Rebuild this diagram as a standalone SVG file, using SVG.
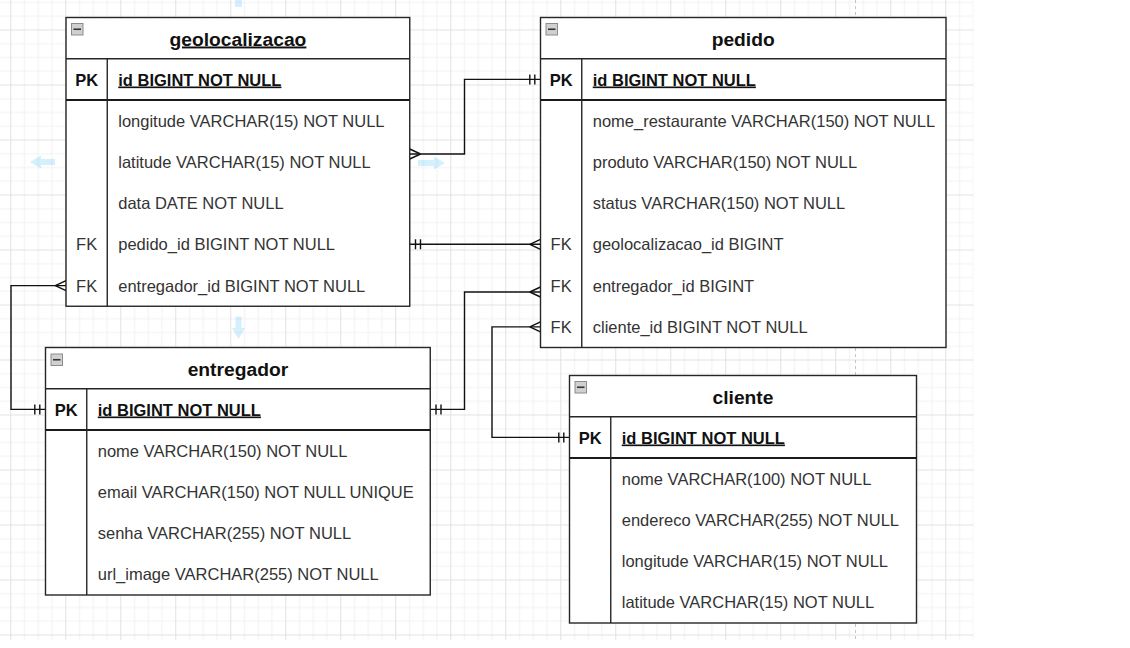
<svg xmlns="http://www.w3.org/2000/svg" width="1130" height="648" viewBox="0 0 1130 648">
<style>
.tb{fill:#fff;stroke:#262626;stroke-width:1.4}
.ln{stroke:#262626;stroke-width:1.4;fill:none}
.pkl{stroke:#1a1a1a;stroke-width:2.2;fill:none}
.ttl{font-family:"Liberation Sans",Arial,sans-serif;font-size:19.25px;font-weight:bold;fill:#111;text-anchor:middle}
.pk{font-family:"Liberation Sans",Arial,sans-serif;font-size:16.5px;font-weight:bold;fill:#111}
.pkc{font-family:"Liberation Sans",Arial,sans-serif;font-size:16.5px;font-weight:bold;fill:#111;text-anchor:middle}
.fk{font-family:"Liberation Sans",Arial,sans-serif;font-size:16.5px;fill:#333;text-anchor:middle}
.f{font-family:"Liberation Sans",Arial,sans-serif;font-size:16.5px;fill:#333}
.u{text-decoration:underline}
.cn{stroke:#111;stroke-width:1.4;fill:none}
.hov{fill:#29b6f2;fill-opacity:0.2}
</style>
<defs>
<pattern id="grid" x="10.25" y="29.5" width="55" height="55" patternUnits="userSpaceOnUse">
<rect x="13.75" y="0" width="1" height="55" fill="#f1f1f1"/>
<rect x="27.5" y="0" width="1" height="55" fill="#f1f1f1"/>
<rect x="41.25" y="0" width="1" height="55" fill="#f1f1f1"/>
<rect x="0" y="13.75" width="55" height="1" fill="#f1f1f1"/>
<rect x="0" y="27.5" width="55" height="1" fill="#f1f1f1"/>
<rect x="0" y="41.25" width="55" height="1" fill="#f1f1f1"/>
<rect x="0" y="0" width="1" height="55" fill="#e2e2e2"/>
<rect x="0" y="0" width="55" height="1" fill="#e2e2e2"/>
</pattern>
<g id="minbtn">
<rect x="0" y="0" width="11.5" height="11.5" fill="#d0d0d0" stroke="#8c8c8c" stroke-width="1"/>
<line x1="2" y1="5.75" x2="9.5" y2="5.75" stroke="#333" stroke-width="1.6"/>
</g>
</defs>
<rect x="0" y="0" width="1130" height="648" fill="#fff"/>
<rect x="0" y="0" width="973.5" height="640" fill="url(#grid)"/>
<line x1="855.5" y1="0" x2="855.5" y2="640" stroke="#c4c4c4" stroke-width="1" stroke-dasharray="3,3"/>

<g id="hover-arrows">
<rect class="hov" x="235" y="0" width="7" height="7"/>
<polygon class="hov" points="30,162 41,155.5 41,159 55,159 55,165 41,165 41,168.5"/>
<polygon class="hov" points="445,163 434,156.5 434,160 418,160 418,166 434,166 434,169.5"/>
<polygon class="hov" points="238.5,339 232,328 235.5,328 235.5,316.5 241.5,316.5 241.5,328 245,328"/>
</g>

<g id="connectors">
<path class="cn" d="M409.75,154 H464.5 V79.4 H540.5"/>
<path class="cn" d="M420.5,154 L409.75,149 M420.5,154 L409.75,159"/>
<path class="cn" d="M529.8,74.4 V84.4 M534.8,74.4 V84.4"/>

<path class="cn" d="M409.75,244.3 H540.5"/>
<path class="cn" d="M415.5,239.3 V249.3 M420.5,239.3 V249.3"/>
<path class="cn" d="M529.8,244.3 L540.5,239.3 M529.8,244.3 L540.5,249.3"/>

<path class="cn" d="M66,285.6 H11 V409.4 H45.5"/>
<path class="cn" d="M55.3,285.6 L66,280.6 M55.3,285.6 L66,290.6"/>
<path class="cn" d="M34.8,404.4 V414.4 M39.8,404.4 V414.4"/>

<path class="cn" d="M430.25,409.4 H464.5 V292 H540.5"/>
<path class="cn" d="M436,404.4 V414.4 M441,404.4 V414.4"/>
<path class="cn" d="M529.8,292 L540.5,287 M529.8,292 L540.5,297"/>

<path class="cn" d="M569.5,437.4 H492 V326.9 H540.5"/>
<path class="cn" d="M558.8,432.4 V442.4 M563.8,432.4 V442.4"/>
<path class="cn" d="M529.8,326.9 L540.5,321.9 M529.8,326.9 L540.5,331.9"/>
</g>

<g id="geolocalizacao">
<rect class="tb" x="66" y="17.5" width="343.75" height="288.75"/>
<line class="ln" x1="66" y1="58.75" x2="409.75" y2="58.75"/>
<line class="pkl" x1="66" y1="100" x2="409.75" y2="100"/>
<line class="ln" x1="107.25" y1="58.75" x2="107.25" y2="306.25"/>
<use href="#minbtn" x="71.5" y="23.5"/>
<text class="ttl u" x="237.9" y="45.5">geolocalizacao</text>
<text class="pkc" x="86.6" y="85.5">PK</text>
<text class="pk u" x="118.25" y="85.5">id BIGINT NOT NULL</text>
<text class="f" x="118.25" y="126.7">longitude VARCHAR(15) NOT NULL</text>
<text class="f" x="118.25" y="167.9">latitude VARCHAR(15) NOT NULL</text>
<text class="f" x="118.25" y="209.1">data DATE NOT NULL</text>
<text class="fk" x="86.6" y="250.4">FK</text>
<text class="f" x="118.25" y="250.4">pedido_id BIGINT NOT NULL</text>
<text class="fk" x="86.6" y="291.6">FK</text>
<text class="f" x="118.25" y="291.6">entregador_id BIGINT NOT NULL</text>
</g>

<g id="pedido">
<rect class="tb" x="540.5" y="17.5" width="405.5" height="330"/>
<line class="ln" x1="540.5" y1="58.75" x2="946" y2="58.75"/>
<line class="pkl" x1="540.5" y1="100" x2="946" y2="100"/>
<line class="ln" x1="581.75" y1="58.75" x2="581.75" y2="347.5"/>
<use href="#minbtn" x="546" y="23.5"/>
<text class="ttl" x="743.2" y="45.5">pedido</text>
<text class="pkc" x="561.1" y="85.5">PK</text>
<text class="pk u" x="592.75" y="85.5">id BIGINT NOT NULL</text>
<text class="f" x="592.75" y="126.7">nome_restaurante VARCHAR(150) NOT NULL</text>
<text class="f" x="592.75" y="167.9">produto VARCHAR(150) NOT NULL</text>
<text class="f" x="592.75" y="209.1">status VARCHAR(150) NOT NULL</text>
<text class="fk" x="561.1" y="250.4">FK</text>
<text class="f" x="592.75" y="250.4">geolocalizacao_id BIGINT</text>
<text class="fk" x="561.1" y="291.6">FK</text>
<text class="f" x="592.75" y="291.6">entregador_id BIGINT</text>
<text class="fk" x="561.1" y="332.9">FK</text>
<text class="f" x="592.75" y="332.9">cliente_id BIGINT NOT NULL</text>
</g>

<g id="entregador">
<rect class="tb" x="45.5" y="347.5" width="384.75" height="247.5"/>
<line class="ln" x1="45.5" y1="388.75" x2="430.25" y2="388.75"/>
<line class="pkl" x1="45.5" y1="430" x2="430.25" y2="430"/>
<line class="ln" x1="86.75" y1="388.75" x2="86.75" y2="595"/>
<use href="#minbtn" x="51" y="354"/>
<text class="ttl" x="237.9" y="375.5">entregador</text>
<text class="pkc" x="66.1" y="415.5">PK</text>
<text class="pk u" x="97.75" y="415.5">id BIGINT NOT NULL</text>
<text class="f" x="97.75" y="456.7">nome VARCHAR(150) NOT NULL</text>
<text class="f" x="97.75" y="497.9">email VARCHAR(150) NOT NULL UNIQUE</text>
<text class="f" x="97.75" y="539.1">senha VARCHAR(255) NOT NULL</text>
<text class="f" x="97.75" y="580.4">url_image VARCHAR(255) NOT NULL</text>
</g>

<g id="cliente">
<rect class="tb" x="569.5" y="375.5" width="347" height="247.5"/>
<line class="ln" x1="569.5" y1="416.75" x2="916.5" y2="416.75"/>
<line class="pkl" x1="569.5" y1="458" x2="916.5" y2="458"/>
<line class="ln" x1="610.75" y1="416.75" x2="610.75" y2="623"/>
<use href="#minbtn" x="575" y="381.5"/>
<text class="ttl" x="743" y="403.5">cliente</text>
<text class="pkc" x="590.1" y="443.5">PK</text>
<text class="pk u" x="621.75" y="443.5">id BIGINT NOT NULL</text>
<text class="f" x="621.75" y="484.7">nome VARCHAR(100) NOT NULL</text>
<text class="f" x="621.75" y="525.9">endereco VARCHAR(255) NOT NULL</text>
<text class="f" x="621.75" y="567.1">longitude VARCHAR(15) NOT NULL</text>
<text class="f" x="621.75" y="608.4">latitude VARCHAR(15) NOT NULL</text>
</g>
</svg>
